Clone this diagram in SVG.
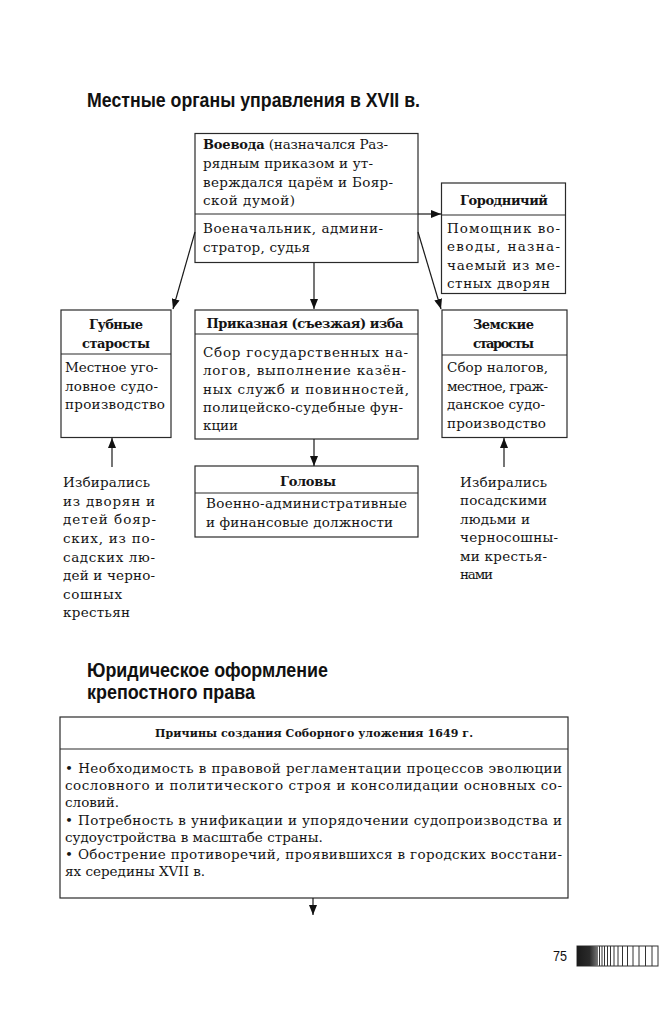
<svg xmlns="http://www.w3.org/2000/svg" width="660" height="1024" viewBox="0 0 660 1024">
<style>
.box{fill:#fff;stroke:#2a2a2a;stroke-width:1.2}
.div{stroke:#2a2a2a;stroke-width:1.2}
.t{font-family:"DejaVu Serif","Liberation Serif",serif;font-size:13.5px;fill:#141414}
.b{font-family:"DejaVu Serif","Liberation Serif",serif;font-size:13px;font-weight:bold;fill:#141414}
.h{font-family:"DejaVu Serif","Liberation Serif",serif;font-size:11px;font-weight:bold;fill:#141414}
.title{font-family:"Liberation Sans","Arial",sans-serif;font-size:19.5px;font-weight:bold;fill:#111}
.c{text-anchor:middle}
.con{stroke:#1a1a1a;stroke-width:1.2;fill:none}
.pn{font-family:"Liberation Sans",sans-serif;font-size:14px;fill:#111}
</style>
<defs>
<marker id="arr" markerUnits="userSpaceOnUse" markerWidth="11" markerHeight="8" refX="10" refY="4" orient="auto">
<path d="M0,0 L10,4 L0,8 z" fill="#111"/>
</marker>
<linearGradient id="pg" x1="0" y1="0" x2="1" y2="0">
<stop offset="0" stop-color="#1a1a1a"/>
<stop offset="0.6" stop-color="#2a2a2a"/>
<stop offset="1" stop-color="#777"/>
</linearGradient>
</defs>
<rect width="660" height="1024" fill="#fff"/>

<g id="titles">
<text class="title" x="87" y="107" textLength="333" lengthAdjust="spacingAndGlyphs">Местные органы управления в XVII в.</text>
<text class="title" x="87" y="677" textLength="241" lengthAdjust="spacingAndGlyphs">Юридическое оформление</text>
<text class="title" x="87" y="699" textLength="168" lengthAdjust="spacingAndGlyphs">крепостного права</text>
</g>

<g id="voevoda">
<rect class="box" x="195" y="133.5" width="223" height="129"/>
<line class="div" x1="195" y1="214" x2="418" y2="214"/>
<text class="t" x="203" y="149" textLength="185" lengthAdjust="spacing"><tspan class="b">Воевода</tspan> (назначался Раз-</text>
<text class="t" x="203" y="168" textLength="170" lengthAdjust="spacing">рядным приказом и ут-</text>
<text class="t" x="203" y="186.5" textLength="190" lengthAdjust="spacing">верждался царём и Бояр-</text>
<text class="t" x="203" y="205" textLength="92" lengthAdjust="spacing">ской думой)</text>
<text class="t" x="203" y="233" textLength="180" lengthAdjust="spacing">Военачальник, админи-</text>
<text class="t" x="203" y="252" textLength="107" lengthAdjust="spacing">стратор, судья</text>
</g>

<g id="gorodnichiy">
<rect class="box" x="441.5" y="183" width="124" height="110.5"/>
<line class="div" x1="441.5" y1="215" x2="565.5" y2="215"/>
<text class="b c" x="504" y="205" textLength="88" lengthAdjust="spacing">Городничий</text>
<text class="t" x="447" y="232.5" textLength="113" lengthAdjust="spacing">Помощник во-</text>
<text class="t" x="447" y="251" textLength="113" lengthAdjust="spacing">еводы, назна-</text>
<text class="t" x="447" y="269.5" textLength="113" lengthAdjust="spacing">чаемый из ме-</text>
<text class="t" x="447" y="288" textLength="103" lengthAdjust="spacing">стных дворян</text>
</g>

<g id="gubnye">
<rect class="box" x="61" y="310" width="110" height="127.5"/>
<line class="div" x1="61" y1="354" x2="171" y2="354"/>
<text class="b c" x="116" y="328.5" textLength="54" lengthAdjust="spacing">Губные</text>
<text class="b c" x="116" y="347.5" textLength="68" lengthAdjust="spacing">старосты</text>
<text class="t" x="65" y="372" textLength="93" lengthAdjust="spacing">Местное уго-</text>
<text class="t" x="65" y="391" textLength="93" lengthAdjust="spacing">ловное судо-</text>
<text class="t" x="65" y="409" textLength="100" lengthAdjust="spacing">производство</text>
</g>

<g id="prikaznaya">
<rect class="box" x="195" y="310" width="223" height="129"/>
<line class="div" x1="195" y1="334" x2="418" y2="334"/>
<text class="b c" x="305" y="328" textLength="197" lengthAdjust="spacing">Приказная (съезжая) изба</text>
<text class="t" x="203" y="356.5" textLength="205" lengthAdjust="spacing">Сбор государственных на-</text>
<text class="t" x="203" y="375" textLength="203" lengthAdjust="spacing">логов, выполнение казён-</text>
<text class="t" x="203" y="393.5" textLength="206" lengthAdjust="spacing">ных служб и повинностей,</text>
<text class="t" x="203" y="412" textLength="200" lengthAdjust="spacing">полицейско-судебные фун-</text>
<text class="t" x="203" y="430">кции</text>
</g>

<g id="zemskie">
<rect class="box" x="442" y="310" width="125" height="127.5"/>
<line class="div" x1="442" y1="355" x2="567" y2="355"/>
<text class="b c" x="503.5" y="328.5" textLength="61" lengthAdjust="spacing">Земские</text>
<text class="b c" x="503.5" y="347.5" textLength="61" lengthAdjust="spacing">старосты</text>
<text class="t" x="447" y="372" textLength="101" lengthAdjust="spacing">Сбор налогов,</text>
<text class="t" x="447" y="390.5" textLength="101" lengthAdjust="spacing">местное, граж-</text>
<text class="t" x="447" y="409" textLength="98" lengthAdjust="spacing">данское судо-</text>
<text class="t" x="447" y="427.5" textLength="99" lengthAdjust="spacing">производство</text>
</g>

<g id="golovy">
<rect class="box" x="195" y="466" width="223" height="71"/>
<line class="div" x1="195" y1="493" x2="418" y2="493"/>
<text class="b c" x="308" y="486" textLength="56" lengthAdjust="spacing">Головы</text>
<text class="t" x="206" y="508" textLength="201" lengthAdjust="spacing">Военно-административные</text>
<text class="t" x="206" y="527" textLength="187" lengthAdjust="spacing">и финансовые должности</text>
</g>

<g id="note-left">
<text class="t" x="63" y="487" textLength="87" lengthAdjust="spacing">Избирались</text>
<text class="t" x="63" y="505.5" textLength="92" lengthAdjust="spacing">из дворян и</text>
<text class="t" x="63" y="524" textLength="93" lengthAdjust="spacing">детей бояр-</text>
<text class="t" x="63" y="543" textLength="92" lengthAdjust="spacing">ских, из по-</text>
<text class="t" x="63" y="561.5" textLength="92" lengthAdjust="spacing">садских лю-</text>
<text class="t" x="63" y="580" textLength="92" lengthAdjust="spacing">дей и черно-</text>
<text class="t" x="63" y="598.5" textLength="59" lengthAdjust="spacing">сошных</text>
<text class="t" x="63" y="617" textLength="67" lengthAdjust="spacing">крестьян</text>
</g>

<g id="note-right">
<text class="t" x="460" y="487" textLength="87" lengthAdjust="spacing">Избирались</text>
<text class="t" x="460" y="505" textLength="87" lengthAdjust="spacing">посадскими</text>
<text class="t" x="460" y="523.5" textLength="70" lengthAdjust="spacing">людьми и</text>
<text class="t" x="460" y="542" textLength="98" lengthAdjust="spacing">черносошны-</text>
<text class="t" x="460" y="560.5" textLength="87" lengthAdjust="spacing">ми крестья-</text>
<text class="t" x="460" y="578.5" textLength="33" lengthAdjust="spacing">нами</text>
</g>

<g id="prichiny">
<rect class="box" x="60" y="717" width="508" height="181"/>
<line class="div" x1="60" y1="749" x2="568" y2="749"/>
<text class="h c" x="314" y="737" textLength="318" lengthAdjust="spacing">Причины создания Соборного уложения 1649 г.</text>
<text class="t" x="65" y="772.5" textLength="497" lengthAdjust="spacing">• Необходимость в правовой регламентации процессов эволюции</text>
<text class="t" x="65" y="789.5" textLength="497" lengthAdjust="spacing">сословного и политического строя и консолидации основных со-</text>
<text class="t" x="65" y="806.5">словий.</text>
<text class="t" x="65" y="824.5" textLength="497" lengthAdjust="spacing">• Потребность в унификации и упорядочении судопроизводства и</text>
<text class="t" x="65" y="841.5">судоустройства в масштабе страны.</text>
<text class="t" x="65" y="858.5" textLength="497" lengthAdjust="spacing">• Обострение противоречий, проявившихся в городских восстани-</text>
<text class="t" x="65" y="876">ях середины XVII в.</text>
</g>

<g id="connectors">
<line class="con" x1="418" y1="214" x2="441" y2="214" marker-end="url(#arr)"/>
<line class="con" x1="195" y1="232" x2="173" y2="309" marker-end="url(#arr)"/>
<line class="con" x1="314" y1="263" x2="314" y2="309" marker-end="url(#arr)"/>
<line class="con" x1="418" y1="232" x2="441" y2="309" marker-end="url(#arr)"/>
<line class="con" x1="314" y1="439" x2="314" y2="466" marker-end="url(#arr)"/>
<line class="con" x1="112" y1="467" x2="112" y2="438" marker-end="url(#arr)"/>
<line class="con" x1="504" y1="467" x2="504" y2="438" marker-end="url(#arr)"/>
<line class="con" x1="313" y1="898" x2="313" y2="915" marker-end="url(#arr)"/>
</g>

<g id="page">
<text class="pn" x="553" y="961" textLength="14" lengthAdjust="spacingAndGlyphs">75</text>
<rect x="577" y="946" width="81" height="20" fill="#fff" stroke="#333" stroke-width="1"/>
<rect x="577" y="946" width="21" height="20" fill="url(#pg)"/>
<g stroke="#333" stroke-width="1">
<line x1="599.5" y1="946" x2="599.5" y2="966"/>
<line x1="602" y1="946" x2="602" y2="966"/>
<line x1="604.5" y1="946" x2="604.5" y2="966"/>
<line x1="607.5" y1="946" x2="607.5" y2="966"/>
<line x1="610.5" y1="946" x2="610.5" y2="966"/>
<line x1="614" y1="946" x2="614" y2="966"/>
<line x1="618" y1="946" x2="618" y2="966"/>
<line x1="622.5" y1="946" x2="622.5" y2="966"/>
<line x1="627.5" y1="946" x2="627.5" y2="966"/>
<line x1="633" y1="946" x2="633" y2="966"/>
<line x1="639" y1="946" x2="639" y2="966"/>
<line x1="645.5" y1="946" x2="645.5" y2="966"/>
<line x1="652" y1="946" x2="652" y2="966"/>
</g>
</g>
</svg>
